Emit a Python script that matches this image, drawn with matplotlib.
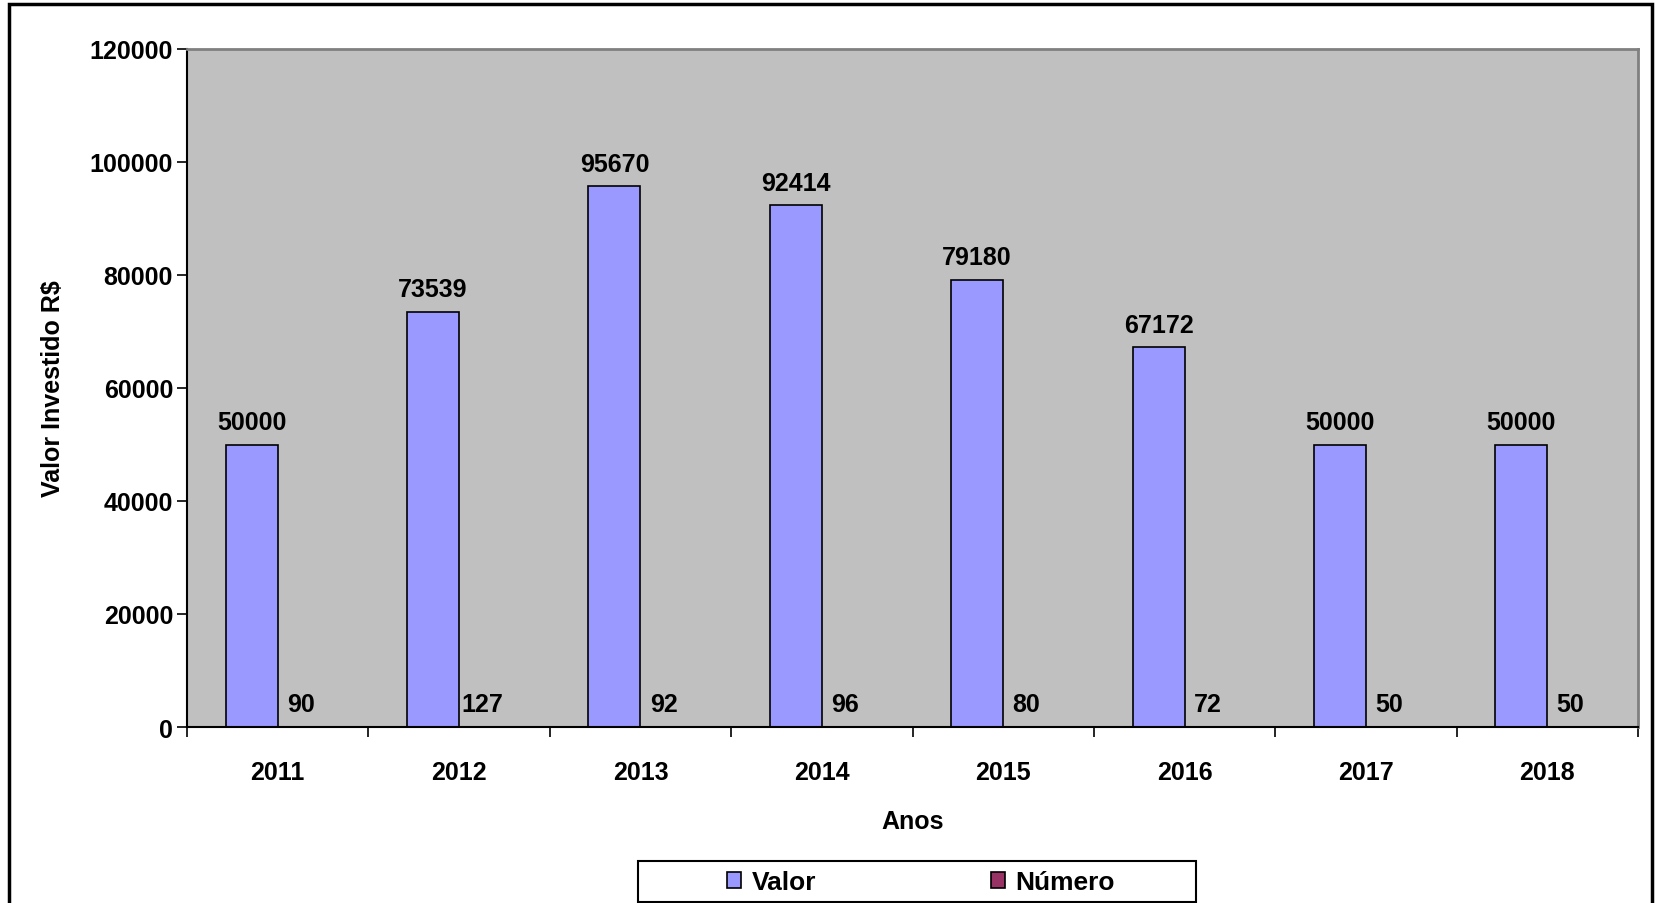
import numpy as np
import matplotlib.pyplot as plt
import matplotlib.patches as mpatches
from matplotlib import rcParams

rcParams['font.family'] = ['Liberation Sans', 'DejaVu Sans']
rcParams['font.weight'] = 'bold'
rcParams['font.size'] = 18

# 数据
anos = ['2011', '2012', '2013', '2014', '2015', '2016', '2017', '2018']
valor = [50000, 73539, 95670, 92414, 79180, 67172, 50000, 50000]
numero = [90, 127, 92, 96, 80, 72, 50, 50]

cor_valor = '#9999FF'
cor_numero = '#993366'

fig = plt.figure(figsize=(16.55, 9.04), dpi=100)
ax = fig.add_axes([187 / 1655, 1 - 728 / 904, (1638 - 187) / 1655, (728 - 50) / 904])

x = np.arange(len(anos))
w = 0.287

ax.set_facecolor('#C0C0C0')
ax.bar(x - w / 2, valor, w, color=cor_valor, edgecolor='black', linewidth=1.2)
ax.bar(x + w / 2, numero, w, color=cor_numero, linewidth=0)

# rótulos de valor
for xi, v in zip(x, valor):
    ax.annotate(str(v), (xi - w / 2, v), xytext=(0, 11), textcoords='offset points',
                ha='center', va='baseline', fontsize=18, fontweight='bold')
for xi, n in zip(x, numero):
    ax.annotate(str(n), (xi + w / 2, n), xytext=(-2, 11), textcoords='offset points',
                ha='center', va='baseline', fontsize=18, fontweight='bold')

ax.set_xlim(-0.5, len(anos) - 0.5)
ax.set_ylim(0, 120000)
ax.set_yticks(np.arange(0, 120001, 20000))
ax.set_xticks(x)
ax.set_xticklabels(anos)
ax.set_xticks(np.arange(-0.5, len(anos)), minor=True)
ax.tick_params(axis='x', which='major', length=0, pad=24, labelsize=18)
ax.tick_params(axis='x', which='minor', length=7, width=1.2, direction='out')
ax.tick_params(axis='y', length=7, width=1.2, pad=3, labelsize=18)

for side in ['top', 'right']:
    ax.spines[side].set_color('#808080')
    ax.spines[side].set_linewidth(2)
for side in ['left', 'bottom']:
    ax.spines[side].set_color('black')
    ax.spines[side].set_linewidth(1.5)

ax.set_ylabel('Valor Investido R$', fontsize=18, fontweight='bold', labelpad=18)
ax.set_xlabel('Anos', fontsize=18, fontweight='bold', labelpad=18)

# legenda
h1 = mpatches.Patch(facecolor=cor_valor, edgecolor='black', linewidth=1.2)
h2 = mpatches.Patch(facecolor=cor_numero, edgecolor='black', linewidth=1.2)
leg = fig.legend(handles=[h1, h2], labels=['Valor', 'Número'], ncol=2,
                 loc='center', bbox_to_anchor=(921 / 1655, 1 - 883 / 904),
                 frameon=False, borderpad=0, borderaxespad=0,
                 handlelength=0.55, handleheight=0.55, handletextpad=0.4,
                 columnspacing=6.6, fontsize=19)
for t in leg.get_texts():
    t.set_fontweight('bold')
fig.patches.append(mpatches.Rectangle((638 / 1655, 1 - 903 / 904), (1196 - 638) / 1655, (903 - 862) / 904,
                                      transform=fig.transFigure, fill=False,
                                      edgecolor='black', linewidth=1.5))

# borda externa
fig.patches.append(mpatches.Rectangle((9 / 1655, -0.05), (1652 - 9) / 1655, 1 - 5 / 904 + 0.05,
                                      transform=fig.transFigure, fill=False,
                                      edgecolor='black', linewidth=2.5))

fig.savefig('out.png', dpi=100, facecolor='white')
